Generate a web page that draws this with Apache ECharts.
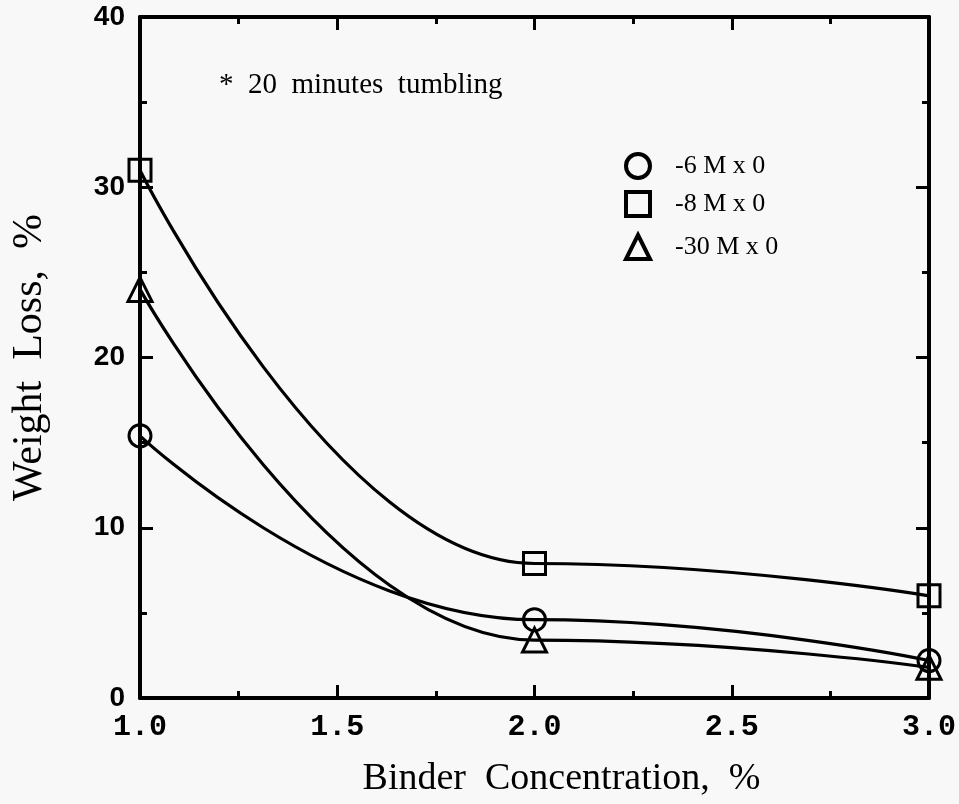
<!DOCTYPE html>
<html>
<head>
<meta charset="utf-8">
<script src="https://cdn.jsdelivr.net/npm/echarts@6/dist/echarts.min.js"></script>
<style>
html,body{margin:0;padding:0;background:#f7f8f7;}
#c{width:959px;height:804px;}
</style>
</head>
<body>
<div id="c"></div>
<script>
const binder = [1.0, 2.0, 3.0];
const mesh6 = [15.4, 4.6, 2.2];
const mesh8 = [31.0, 7.9, 6.0];
const mesh30 = [24.0, 3.4, 1.8];
const seriesNames = ['-6 M x 0', '-8 M x 0', '-30 M x 0'];
const note = '*  20  minutes  tumbling';

const pairs = ys => binder.map((x, i) => [x, ys[i]]);
const chart = echarts.init(document.getElementById('c'), null, {renderer: 'canvas'});

const axisLine = {show: true, onZero: false, lineStyle: {color: '#000', width: 4}};
const tick = {show: true, inside: true, length: 13, lineStyle: {color: '#000', width: 3}};
const minor = {show: true, splitNumber: 2, length: 7, lineStyle: {color: '#000', width: 3}};

function mkSeries(name, ys, symbol) {
  return {
    name: name, type: 'line', data: pairs(ys),
    smooth: 0.5, smoothMonotone: 'x',
    symbol: symbol, symbolSize: symbol === 'triangle' ? 24 : 22,
    clip: false,
    lineStyle: {color: '#000', width: 3.2},
    itemStyle: {color: 'rgba(0,0,0,0)', borderColor: '#000', borderWidth: 3},
    emphasis: {disabled: true}
  };
}
function mkLegend(name, icon, top) {
  return {
    data: [{name: name, icon: icon, itemStyle: {color: 'rgba(0,0,0,0)', borderColor: '#000', borderWidth: 4}}],
    left: 619, top: top, itemWidth: 24, itemHeight: 24, orient: 'vertical',
    selectedMode: false,
    textStyle: {fontFamily: 'Liberation Serif', fontSize: 26, color: '#000', padding: [0, 0, 0, 20]}
  };
}

chart.setOption({
  backgroundColor: '#f7f8f7',
  animation: false,
  title: {
    text: note, left: 214, top: 66,
    textStyle: {fontFamily: 'Liberation Serif', fontSize: 29, fontWeight: 'normal', color: '#000'}
  },
  legend: [
    mkLegend(seriesNames[0], 'circle', 147),
    mkLegend(seriesNames[1], 'rect', 185),
    mkLegend(seriesNames[2], 'triangle', 228)
  ],
  grid: {left: 140, right: 30, top: 17, bottom: 106, containLabel: false, outerBoundsMode: 'none'},
  xAxis: [{
    type: 'value', min: 1, max: 3, interval: 0.5, position: 'bottom',
    name: 'Binder  Concentration,  %', nameLocation: 'middle', nameGap: 62,
    nameTextStyle: {fontFamily: 'Liberation Serif', fontSize: 38, color: '#000', padding: [0, 0, 0, 54]},
    axisLine: axisLine, axisTick: tick, minorTick: minor, splitLine: {show: false},
    axisLabel: {margin: 14, color: '#000', fontFamily: 'Liberation Mono', fontWeight: 'bold', fontSize: 30,
      formatter: v => v.toFixed(1)}
  }, {
    type: 'value', min: 1, max: 3, interval: 0.5, position: 'top',
    axisLine: axisLine, axisTick: tick, minorTick: minor, splitLine: {show: false},
    axisLabel: {show: false}
  }],
  yAxis: [{
    type: 'value', min: 0, max: 40, interval: 10, position: 'left',
    name: 'Weight  Loss,  %', nameLocation: 'middle', nameGap: 89,
    nameTextStyle: {fontFamily: 'Liberation Serif', fontSize: 42, color: '#000'},
    axisLine: axisLine, axisTick: tick, minorTick: minor, splitLine: {show: false},
    axisLabel: {margin: 15, color: '#000', fontFamily: 'Liberation Sans', fontWeight: 'bold', fontSize: 28}
  }, {
    type: 'value', min: 0, max: 40, interval: 10, position: 'right',
    axisLine: axisLine, axisTick: tick, minorTick: minor, splitLine: {show: false},
    axisLabel: {show: false}
  }],
  series: [
    mkSeries(seriesNames[0], mesh6, 'circle'),
    mkSeries(seriesNames[1], mesh8, 'rect'),
    mkSeries(seriesNames[2], mesh30, 'triangle')
  ]
});
</script>
</body>
</html>
